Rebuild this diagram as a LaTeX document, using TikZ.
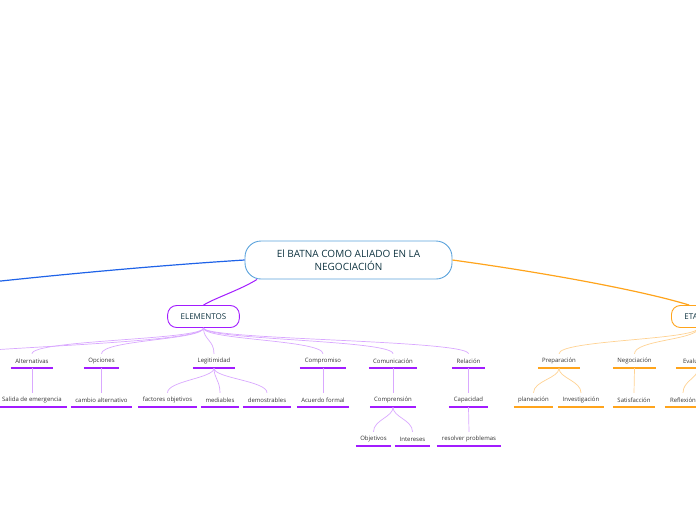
\documentclass[tikz,border=0pt]{standalone}
\usepackage{fontspec}
\setmainfont{Open Sans}
\definecolor{rootblue}{HTML}{5BA3DC}
\definecolor{titleink}{HTML}{0E3340}
\definecolor{leafink}{HTML}{333333}
\definecolor{bluebranch}{HTML}{1F63E8}
\definecolor{elline}{HTML}{A21CFF}
\definecolor{ellight}{HTML}{D9A8FF}
\definecolor{etline}{HTML}{FFA41C}
\definecolor{etlight}{HTML}{FFD292}

\begin{document}
\begin{tikzpicture}[x=1pt,y=-1pt]
	\tikzset{root/.style={draw=rootblue,line width=0.9pt,fill=white,rounded corners=16pt,
			minimum width=207pt,minimum height=38pt,align=center,text=titleink,
			font=\fontsize{10}{12.5}\selectfont}}
	\tikzset{topic/.style={draw=#1,line width=0.9pt,fill=white,rounded corners=9pt,
			inner xsep=13pt,minimum height=22pt,text=titleink,
			font=\fontsize{8}{9}\selectfont}}
	\tikzset{leaf/.style 2 args={inner sep=0pt,minimum height=14pt,minimum width=#2pt,
			text=leafink,font=\fontsize{6}{7}\selectfont,
			append after command={\pgfextra{\let\leafnode=\tikzlastnode}
				(\leafnode.south west) edge[draw=#1,line width=1.6pt] (\leafnode.south east)}}}
	\tikzset{elbranch/.style={draw=ellight,line width=0.7pt}}
	\tikzset{etbranch/.style={draw=etlight,line width=0.7pt}}
	\useasboundingbox (0,0) rectangle (696,520);
	\clip (0,0) rectangle (696,520);
	
	\node[root] (root) at (348.5,260) {El BATNA COMO ALIADO EN LA\\NEGOCIACIÓN};
	\node[topic=elline] (elem) at (203.5,316.5) {ELEMENTOS};
	\node[topic=etline,anchor=west] (etap) at (671,316.5) {ETAPAS};
	\coordinate (leftmain) at (-80,290);
	\coordinate (elfar) at (-60,354);
	\coordinate (evfar) at (740,393);
	
	\node[leaf={elline}{42}] (alt) at (32,361) {Alternativas};
	\node[leaf={elline}{35}] (opc) at (101.5,361) {Opciones};
	\node[leaf={elline}{42}] (leg) at (214,361) {Legitimidad};
	\node[leaf={elline}{46}] (comp) at (323,361) {Compromiso};
	\node[leaf={elline}{48}] (comu) at (393,361) {Comunicación};
	\node[leaf={elline}{33}] (rel) at (468.5,361) {Relación};
	
	\node[leaf={elline}{70}] (sal) at (32,400) {Salida de emergencia};
	\node[leaf={elline}{61}] (cam) at (101.5,400) {cambio alternativo};
	\node[leaf={elline}{59}] (fac) at (167.5,400) {factores objetivos};
	\node[leaf={elline}{38}] (med) at (220,400) {mediables};
	\node[leaf={elline}{48}] (dem) at (267,400) {demostrables};
	\node[leaf={elline}{52}] (acu) at (323,400) {Acuerdo formal};
	\node[leaf={elline}{46}] (cmp) at (393,400) {Comprensión};
	\node[leaf={elline}{39}] (cap) at (468.5,400) {Capacidad};
	
	\node[leaf={elline}{35}] (obj) at (373.5,439) {Objetivos};
	\node[leaf={elline}{35}] (int) at (412.5,439) {Intereses};
	\node[leaf={elline}{64}] (res) at (469,439) {resolver problemas};
	
	\node[leaf={etline}{42}] (pre) at (559,361) {Preparación};
	\node[leaf={etline}{43}] (neg) at (634.5,361) {Negociación};
	\node[leaf={etline}{44}] (eva) at (698,361) {Evaluación};
	\node[leaf={etline}{39}] (pla) at (533.5,400) {planeación};
	\node[leaf={etline}{46}] (inv) at (581,400) {Investigación};
	\node[leaf={etline}{42}] (sat) at (634,400) {Satisfacción};
	\node[leaf={etline}{36}] (ref) at (683,400) {Reflexión};
	
	\draw[bluebranch,line width=1.2pt] (root.west) .. controls (150,266) and (40,276) .. (leftmain);
	\draw[etline,line width=1.2pt] (root.east) .. controls (540,272) and (640,290) .. (etap.128);
	\draw[elline,line width=1pt] (root.192) .. controls (240,290) and (215,298) .. (elem.north);
	
	\draw[elbranch] (elem.south) .. controls +(0,14) and +(80,-8) .. (elfar);
	\draw[elbranch] (elem.south) .. controls +(0,12) and +(0,-14) .. (alt.north);
	\draw[elbranch] (elem.south) .. controls +(0,12) and +(0,-14) .. (opc.north);
	\draw[elbranch] (elem.south) .. controls +(0,12) and +(0,-14) .. (leg.north);
	\draw[elbranch] (elem.south) .. controls +(0,12) and +(0,-14) .. (comp.north);
	\draw[elbranch] (elem.south) .. controls +(0,12) and +(0,-14) .. (comu.north);
	\draw[elbranch] (elem.south) .. controls +(0,12) and +(0,-14) .. (rel.north);
	
	\draw[elbranch] (alt.south) -- (sal.north);
	\draw[elbranch] (opc.south) -- (cam.north);
	\draw[elbranch] (leg.south) .. controls +(0,10) and +(0,-12) .. (fac.north);
	\draw[elbranch] (leg.south) .. controls +(0,10) and +(0,-12) .. (med.north);
	\draw[elbranch] (leg.south) .. controls +(0,10) and +(0,-12) .. (dem.north);
	\draw[elbranch] (comp.south) -- (acu.north);
	\draw[elbranch] (comu.south) -- (cmp.north);
	\draw[elbranch] (rel.south) -- (cap.north);
	\draw[elbranch] (cmp.south) .. controls +(0,10) and +(0,-12) .. (obj.north);
	\draw[elbranch] (cmp.south) .. controls +(0,10) and +(0,-12) .. (int.north);
	\draw[elbranch] (cap.south) -- (res.north);
	
	\draw[etbranch] (etap.south) .. controls +(0,12) and +(0,-14) .. (pre.north);
	\draw[etbranch] (etap.south) .. controls +(0,12) and +(0,-14) .. (neg.north);
	\draw[etbranch] (etap.south) .. controls +(0,12) and +(0,-14) .. (eva.north);
	\draw[etbranch] (pre.south) .. controls +(0,10) and +(0,-12) .. (pla.north);
	\draw[etbranch] (pre.south) .. controls +(0,10) and +(0,-12) .. (inv.north);
	\draw[etbranch] (neg.south) -- (sat.north);
	\draw[etbranch] (eva.south) .. controls +(0,10) and +(0,-12) .. (ref.north);
	\draw[etbranch] (eva.south) .. controls +(0,10) and +(-20,-12) .. (evfar);
\end{tikzpicture}
\end{document}
